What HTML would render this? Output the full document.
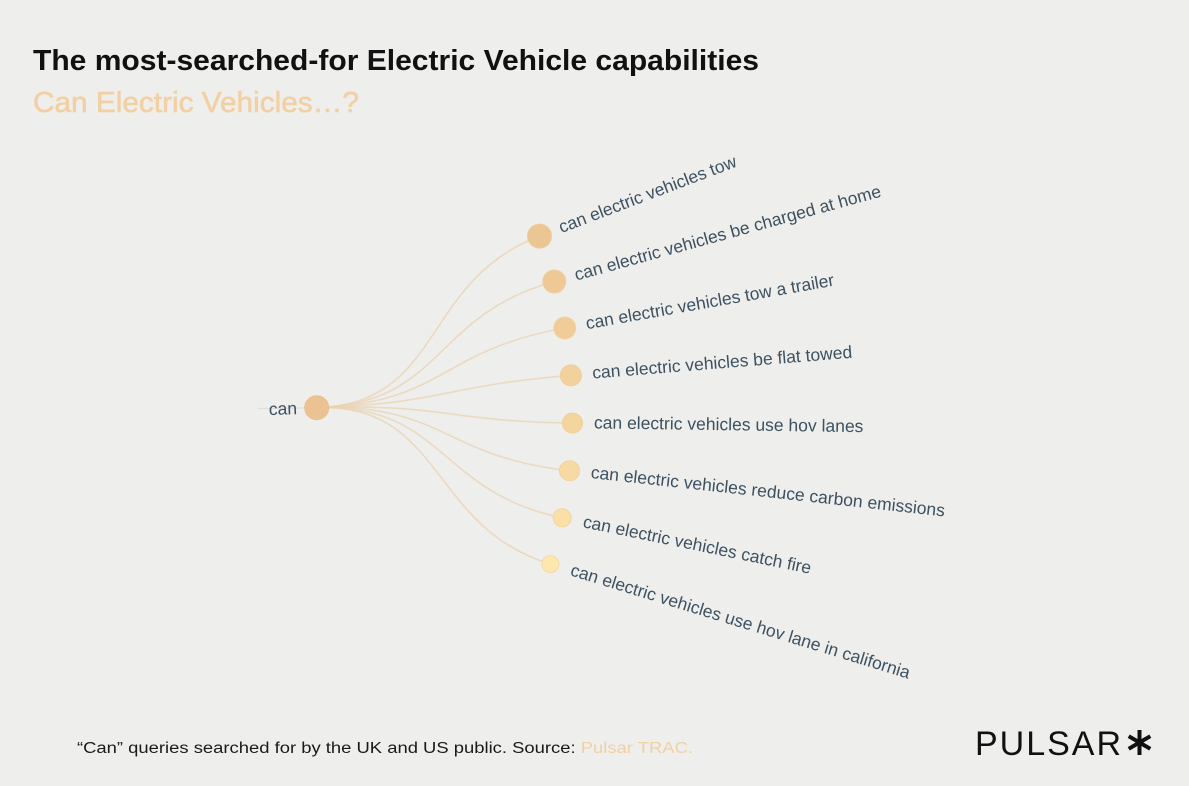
<!DOCTYPE html>
<html>
<head>
<meta charset="utf-8">
<style>
  html, body { margin:0; padding:0; background:#eeeeed; }
  body { width:1189px; height:786px; overflow:hidden; }
  svg { display:block; }
  .lbl { font-family:"Liberation Sans", Arial, sans-serif; font-size:17.5px; fill:#3d5160; }
</style>
</head>
<body>
<svg width="1189" height="786" viewBox="0 0 1189 786" xmlns="http://www.w3.org/2000/svg">
  <rect x="0" y="0" width="1189" height="786" fill="#eeeeed"/>

  <!-- Title -->
  <text x="33" y="70" font-family="Liberation Sans, Arial, sans-serif" font-size="29" font-weight="bold" fill="#111111" textLength="726" lengthAdjust="spacingAndGlyphs">The most-searched-for Electric Vehicle capabilities</text>
  <text x="33" y="112" font-family="Liberation Sans, Arial, sans-serif" font-size="29" fill="#f2d0a3" stroke="#f2d0a3" stroke-width="0.6" textLength="326" lengthAdjust="spacingAndGlyphs">Can Electric Vehicles…?</text>

  <!-- faint line to hidden root -->
  <line x1="258" y1="408.5" x2="305" y2="408" stroke="#dedede" stroke-width="1.2"/>

  <!-- links -->
  <g fill="none" stroke="#ead3b2" stroke-width="1.6" stroke-opacity="0.75">
    <path d="M316.7,407.7 C444.4,403.4 420.0,281.5 539.5,236.1"/>
    <path d="M316.7,407.7 C444.4,403.4 431.1,315.4 554.3,281.5"/>
    <path d="M316.7,407.7 C444.4,403.4 438.9,350.2 564.8,328.0"/>
    <path d="M316.7,407.7 C444.4,403.4 443.4,385.6 570.9,375.4"/>
    <path d="M316.7,407.7 C444.4,403.4 444.6,421.3 572.5,423.1"/>
    <path d="M316.7,407.7 C444.4,403.4 442.4,456.9 569.5,470.7"/>
    <path d="M316.7,407.7 C444.4,403.4 436.9,492.1 562.2,517.8"/>
    <path d="M316.7,407.7 C444.4,403.4 428.1,526.7 550.4,564.1"/>
  </g>

  <!-- root -->
  <circle cx="316.7" cy="407.7" r="12" fill="#ebc392" stroke="#e8c090" stroke-width="1"/>
  <text class="lbl" x="297" y="408" dy="5.5" text-anchor="end" transform="rotate(-1.9 316.7 407.7)">can</text>

  <!-- leaves -->
  <circle cx="539.5" cy="236.1" r="12" fill="#ebc592" stroke="#efcc9c" stroke-width="1"/>
  <circle cx="554.3" cy="281.5" r="11.5" fill="#eec895" stroke="#f1cf9f" stroke-width="1"/>
  <circle cx="564.8" cy="328.0" r="11" fill="#f0cc98" stroke="#f3d3a2" stroke-width="1"/>
  <circle cx="570.9" cy="375.4" r="10.5" fill="#f3d19c" stroke="#f0cc98" stroke-width="1"/>
  <circle cx="572.5" cy="423.1" r="10" fill="#f5d59e" stroke="#f1cf99" stroke-width="1"/>
  <circle cx="569.5" cy="470.7" r="10" fill="#f7daa2" stroke="#f2d29b" stroke-width="1"/>
  <circle cx="562.2" cy="517.8" r="9" fill="#fae0a6" stroke="#f2d59e" stroke-width="1"/>
  <circle cx="550.4" cy="564.1" r="8.5" fill="#fce8ae" stroke="#f3dba3" stroke-width="1"/>

  <g class="lbl">
    <text class="lbl" x="594" y="416" dy="5" transform="rotate(-20.8 66 416)">can electric vehicles tow</text>
    <text class="lbl" x="594" y="416" dy="5" transform="rotate(-15.4 66 416)">can electric vehicles be charged at home</text>
    <text class="lbl" x="594" y="416" dy="5" transform="rotate(-10 66 416)">can electric vehicles tow a trailer</text>
    <text class="lbl" x="594" y="416" dy="5" transform="rotate(-4.6 66 416)">can electric vehicles be flat towed</text>
    <text class="lbl" x="594" y="416" dy="5" transform="rotate(0.8 66 416)">can electric vehicles use hov lanes</text>
    <text class="lbl" x="594" y="416" dy="5" transform="rotate(6.2 66 416)">can electric vehicles reduce carbon emissions</text>
    <text class="lbl" x="594" y="416" dy="5" transform="rotate(11.6 66 416)">can electric vehicles catch fire</text>
    <text class="lbl" x="594" y="416" dy="5" transform="rotate(17.0 66 416)">can electric vehicles use hov lane in california</text>
  </g>

  <!-- footer -->
  <text x="77" y="753" font-family="Liberation Sans, Arial, sans-serif" font-size="15.5" fill="#1a1a1a" textLength="616" lengthAdjust="spacingAndGlyphs">“Can” queries searched for by the UK and US public. Source: <tspan fill="#f2d0a3">Pulsar TRAC.</tspan></text>

  <!-- logo -->
  <text x="975" y="755" font-family="Liberation Sans, Arial, sans-serif" font-size="34" fill="#111111" textLength="146" lengthAdjust="spacing">PULSAR</text>
  <g stroke="#111111" stroke-width="4" stroke-linecap="butt">
    <line x1="1139.5" y1="730" x2="1139.5" y2="755"/>
    <line x1="1128.7" y1="736.2" x2="1150.3" y2="748.8"/>
    <line x1="1128.7" y1="748.8" x2="1150.3" y2="736.2"/>
  </g>
</svg>
</body>
</html>
